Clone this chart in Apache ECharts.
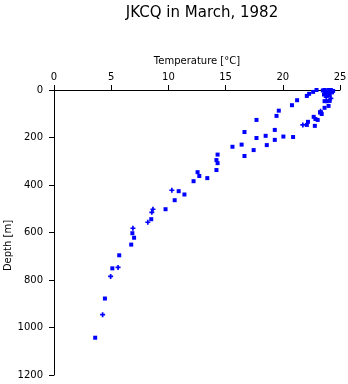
<!DOCTYPE html>
<html>
<head>
<meta charset="utf-8">
<script src="https://cdn.jsdelivr.net/npm/echarts@6/dist/echarts.min.js"></script>
<style>html,body{margin:0;padding:0;background:#fff}#c{width:348px;height:384px}</style>
</head>
<body>
<div id="c"></div>
<script>
// Square-marker observations: temperature [°C] and depth [m]
var squareTemp  = [22.95,22.65,22.3,22.1,21.25,20.8,23.65,24.2,24.0,23.7,23.85,24.1,24.3,23.6,23.9,24.1,23.65,23.85,24.1,24.0,23.65,23.25,23.4,19.65,19.45,22.7,22.85,23.05,17.7,22.2,22.1,22.8,16.65,19.3,18.5,17.7,20.05,20.9,19.3,16.4,18.6,15.6,17.45,16.65,14.3,14.2,14.3,14.2,12.55,12.7,13.4,12.2,10.9,11.4,10.55,9.75,8.5,6.85,7.0,6.75,5.7,5.1,4.45,3.6,23.5,24.4,23.75];
var squareDepth = [0,8,16,25,43,64,0,0,0,6,10,8,10,19,21,23,47,47,46,67,75,95,101,87,109,113,122,126,126,134,147,151,177,168,193,202,196,198,210,230,232,239,253,278,272,295,308,337,346,362,371,384,426,440,464,502,544,603,622,651,696,751,878,1043,2,4,14];
// Plus-marker observations
var plusTemp  = [23.3,21.75,10.3,8.65,8.55,8.2,6.9,5.6,4.95,4.25,23.8,24.2];
var plusDepth = [89,147,422,502,515,557,582,747,785,946,30,35];
// Axis ticks
var tempTicks = [0,5,10,15,20,25];
var depthTicks = [0,200,400,600,800,1000,1200];

function pairs(a,b){var r=[];for(var i=0;i<a.length;i++)r.push([a[i],b[i]]);return r;}
var font = 'DejaVu Sans';
var chart = echarts.init(document.getElementById('c'));
chart.setOption({
  animation:false,
  backgroundColor:'#fff',
  title:{text:'JKCQ in March, 1982',left:197,textAlign:'center',top:1,
    textStyle:{fontFamily:font,fontSize:15,fontWeight:'normal',color:'#000'}},
  grid:{left:54,right:8,top:90,bottom:9,containLabel:false,outerBoundsMode:'none'},
  xAxis:{type:'value',position:'top',min:tempTicks[0],max:tempTicks[tempTicks.length-1],interval:5,
    name:'Temperature [°C]',nameLocation:'middle',nameGap:24,
    nameTextStyle:{fontFamily:font,fontSize:10,color:'#000'},
    axisLine:{show:true,lineStyle:{color:'#000',width:1}},
    axisTick:{show:true,length:5,lineStyle:{color:'#000'}},
    axisLabel:{fontFamily:font,fontSize:10,color:'#000',margin:8},
    splitLine:{show:false}},
  yAxis:{type:'value',inverse:true,min:depthTicks[0],max:depthTicks[depthTicks.length-1],interval:200,
    name:'Depth [m]',nameLocation:'middle',nameGap:41,nameMoveOverlap:false,
    nameTextStyle:{fontFamily:font,fontSize:10,color:'#000',padding:[0,26,0,0]},
    axisLine:{show:true,lineStyle:{color:'#000',width:1}},
    axisTick:{show:true,length:5,lineStyle:{color:'#000'}},
    axisLabel:{fontFamily:font,fontSize:10,color:'#000',margin:11,formatter:function(v){return String(v);}},
    splitLine:{show:false}},
  series:[
    {type:'scatter',data:pairs(squareTemp,squareDepth),symbol:'rect',symbolSize:4,
      itemStyle:{color:'#0000ff',opacity:1}},
    {type:'scatter',data:pairs(plusTemp,plusDepth),symbol:'path://M1,0H2V1H3V2H2V3H1V2H0V1H1Z',symbolSize:5,
      itemStyle:{color:'#0000ff',opacity:1}}
  ]
});
</script>
</body>
</html>
